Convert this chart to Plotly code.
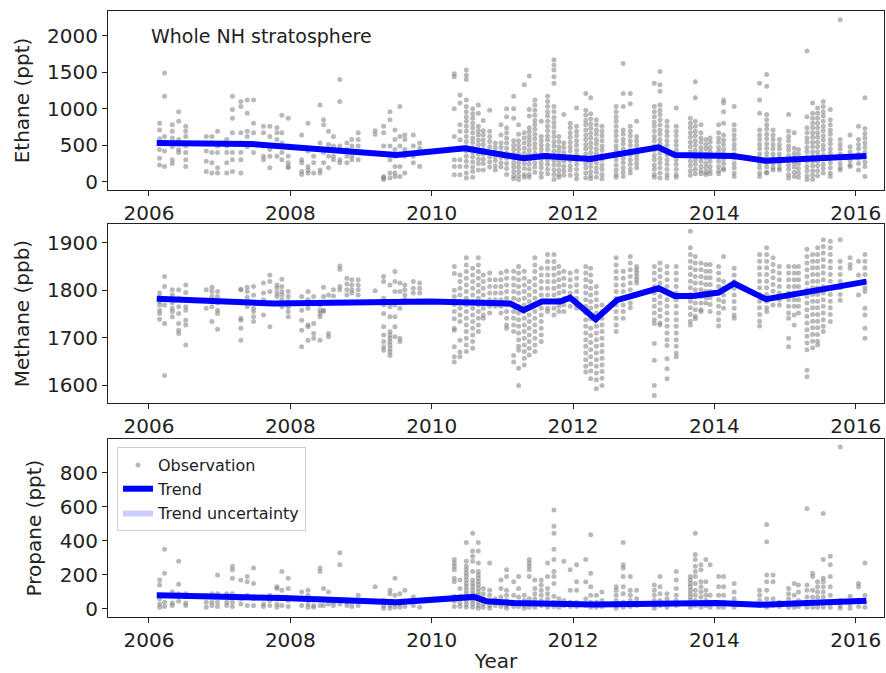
import plotly.graph_objects as go

# ---------------- data ----------------
obs_years = [
    2006.15, 2006.22, 2006.33, 2006.42, 2006.52, 2006.81, 2006.89, 2006.97, 2007.10, 2007.18,
    2007.30, 2007.39, 2007.48, 2007.62, 2007.71, 2007.81, 2007.88, 2007.97, 2008.16, 2008.25,
    2008.33, 2008.42, 2008.47, 2008.54, 2008.61, 2008.70, 2008.80, 2008.87, 2008.96, 2009.20,
    2009.32, 2009.41, 2009.48, 2009.55, 2009.62, 2009.74, 2009.83,
    2010.32, 2010.40, 2010.49, 2010.58, 2010.66, 2010.73, 2010.82, 2010.90, 2010.98, 2011.06,
    2011.16, 2011.23, 2011.31, 2011.38, 2011.46, 2011.55, 2011.64, 2011.73, 2011.80, 2011.87,
    2011.96, 2012.05, 2012.18, 2012.25, 2012.33, 2012.41, 2012.61, 2012.71, 2012.81, 2012.90,
    2013.15, 2013.23, 2013.33, 2013.46, 2013.66, 2013.73, 2013.81, 2013.88, 2013.94, 2014.06,
    2014.13, 2014.28, 2014.64, 2014.74, 2014.83, 2014.92, 2015.05, 2015.13, 2015.19, 2015.31,
    2015.39, 2015.46, 2015.54, 2015.64, 2015.78, 2015.92, 2016.04, 2016.13,
]

ethane_obs = [
    [800, 710, 590, 530, 440, 320, 230], [1490, 1170, 620, 420, 210], [780, 690, 600, 480, 300, 250],
    [960, 830, 580, 440, 400], [760, 690, 620, 490, 400, 300, 210], [620, 420, 280, 140],
    [620, 530, 400, 260, 120], [690, 490, 400, 190, 120], [580, 490, 400, 260, 120],
    [1170, 990, 870, 670, 400, 300, 140], [1100, 1030, 670, 530, 400, 300, 120], [1120, 940, 690, 620, 480],
    [1120, 800, 670, 400], [760, 670, 490, 350, 300], [760, 620, 440, 350, 190], [740, 670, 580, 490, 350],
    [910, 670, 530, 400, 300], [870, 490, 350, 260, 210, 190], [640, 300, 260, 140, 100],
    [800, 420, 210, 160, 120], [350, 260, 120], [1050, 530, 160, 120], [850, 780, 440, 400, 260],
    [690, 510, 350, 190], [620, 490, 350, 300], [1400, 1100, 490, 300, 260], [530, 440, 350, 260],
    [580, 490, 350, 300], [670, 580, 490, 400, 300], [700, 650], [760, 670, 490, 70, 50, 30],
    [960, 850, 490, 300, 120, 50], [710, 580, 440, 350, 210, 120, 70], [1030, 620, 490, 210, 70],
    [640, 580, 440, 350, 120], [640, 490, 350, 260], [530, 460, 400, 210],
    [1480, 1440, 1000, 620, 300, 210, 95],
    [1190, 1080, 780, 690, 575, 440, 300, 210, 95],
    [1530, 1460, 1400, 1120, 1030, 960, 890, 830, 760, 690, 620, 550, 480, 420, 350, 280, 210, 120, 50],
    [1000, 930, 870, 800, 740, 670, 600, 540, 470, 400, 340, 270, 200, 140, 60],
    [1050, 940, 760, 700, 640, 570, 510, 440, 380, 310, 250, 160],
    [840, 700, 640, 570, 510, 440, 380, 310, 250, 160],
    [980, 690, 620, 550, 480, 410, 340, 270, 200],
    [530, 470, 410, 350, 290, 220, 160],
    [780, 640, 530, 470, 400, 330, 260, 200],
    [1000, 890, 740, 670, 600, 530, 460, 390, 320, 250, 180, 100],
    [1170, 1000, 870, 560, 500, 440, 380, 320, 260, 200, 140, 80, 40],
    [780, 650, 560, 500, 440, 380, 320, 260, 200, 140, 80, 30],
    [1330, 670, 600, 530, 460, 390, 320, 250, 180, 100, 60],
    [1450, 990, 900, 740, 680, 620, 560, 500, 430, 370, 300, 240, 170, 100, 60],
    [1120, 1050, 980, 910, 840, 780, 720, 650, 590, 520, 460, 390, 330, 260, 200, 130],
    [830, 620, 560, 500, 440, 380, 310, 250, 190, 120, 60],
    [1170, 1100, 1030, 960, 900, 830, 760, 700, 630, 570, 500, 440, 370, 300, 240, 170, 110],
    [1670, 1600, 1530, 1440, 1350, 1030, 960, 880, 810, 750, 680, 620, 550, 490, 420, 360, 290, 230, 160, 100, 30],
    [620, 550, 480, 420, 360, 290, 230, 160, 100, 60],
    [920, 530, 470, 400, 340, 280, 210, 150, 90],
    [800, 740, 670, 610, 540, 480, 420, 350, 290, 220, 160, 90],
    [1010, 760, 690, 630, 560, 500, 430, 370, 300, 240, 170, 100, 40],
    [1210, 980, 910, 840, 780, 710, 640, 580, 510, 450, 380, 320, 250, 190, 120, 50],
    [1150, 930, 860, 790, 730, 660, 600, 530, 470, 400, 340, 270, 210, 140, 80, 40],
    [850, 780, 710, 650, 580, 520, 450, 390, 320, 260, 190, 130, 60],
    [760, 690, 630, 560, 490, 430, 360, 300, 230, 170, 100, 40],
    [1030, 960, 890, 830, 760, 690, 630, 560, 490, 430, 360, 300, 230, 160, 100, 60],
    [1620, 1210, 1030, 710, 650, 580, 520, 450, 390, 320, 260, 190, 130, 70],
    [1210, 1070, 760, 690, 630, 560, 500, 430, 370, 300, 240, 170, 120],
    [830, 620, 560, 500, 440, 370, 310, 250, 190],
    [1350, 1030, 960, 890, 820, 760, 690, 620, 560, 490, 430, 360, 300, 230, 170, 100, 60],
    [1510, 1330, 1240, 1050, 980, 920, 850, 780, 710, 650, 580, 520, 450, 390, 320, 260, 190, 120, 50],
    [830, 760, 690, 630, 560, 500, 430, 370, 300, 240, 170, 100, 50],
    [1010, 760, 690, 630, 560, 500, 430, 370, 300, 240, 170, 100, 60],
    [870, 800, 740, 670, 610, 540, 480, 410, 350, 280, 220, 150, 90],
    [1370, 1150, 830, 760, 690, 630, 560, 500, 430, 370, 300, 240, 170, 110],
    [780, 670, 600, 540, 470, 410, 340, 280, 210, 150, 110],
    [580, 510, 450, 380, 320, 250, 190, 130, 100],
    [600, 540, 470, 410, 340, 280, 210, 150, 110],
    [780, 670, 600, 540, 470, 410, 340, 280, 210, 150, 110],
    [1120, 1080, 960, 800, 640, 570, 510, 440, 380, 310, 250, 180, 160],
    [1030, 780, 710, 640, 580, 510, 450, 380, 320, 250, 190, 120, 70],
    [1350, 1120, 940, 710, 640, 580, 510, 450, 380, 320, 250, 190, 120, 70],
    [1470, 1310, 920, 850, 780, 720, 650, 590, 520, 460, 390, 330, 260, 200, 130, 120],
    [710, 640, 580, 510, 450, 380, 320, 250, 190, 160],
    [580, 510, 450, 380, 320, 250, 190, 160],
    [920, 690, 620, 560, 490, 430, 360, 300, 230, 170, 100, 50],
    [670, 460, 390, 330, 260, 200, 130, 70],
    [440, 380, 310, 250, 180, 120, 60],
    [1790, 890, 740, 670, 600, 540, 470, 410, 340, 280, 210, 150, 80, 30],
    [1080, 940, 870, 800, 740, 670, 610, 540, 480, 410, 350, 280, 220, 150, 90, 30],
    [1010, 940, 870, 800, 740, 670, 610, 540, 480, 410, 350, 280, 220, 150, 80],
    [1100, 1030, 960, 900, 830, 760, 700, 630, 570, 500, 440, 370, 310, 240, 180, 120],
    [990, 850, 780, 710, 650, 580, 520, 450, 390, 320, 260, 190, 120, 70],
    [2220, 580, 510, 450, 380, 320, 250, 190, 160],
    [640, 480, 410, 350, 290, 230, 210],
    [760, 580, 510, 450, 380, 320, 250, 160],
    [1150, 730, 660, 600, 530, 470, 400, 340, 270, 210, 70],
]

methane_obs = [
    [1794, 1785, 1776, 1769, 1758, 1751, 1739], [1829, 1808, 1769, 1730, 1621],
    [1801, 1790, 1780, 1773, 1762, 1755, 1744], [1801, 1783, 1765, 1751, 1730, 1716, 1709],
    [1811, 1795, 1780, 1765, 1758, 1737, 1727, 1685], [1801, 1762],
    [1806, 1797, 1787, 1776, 1765, 1734], [1797, 1787, 1773, 1758, 1751, 1718], [], [],
    [1802, 1801, 1776, 1741, 1737, 1720, 1695], [1806, 1797, 1785, 1765],
    [1808, 1790, 1762, 1755, 1744, 1734], [1815, 1794, 1780, 1748], [1832, 1818, 1797, 1773, 1723],
    [1811, 1804, 1794, 1787, 1773], [1823, 1808, 1797, 1790, 1780, 1765],
    [1797, 1787, 1776, 1765, 1755, 1744], [1787, 1758, 1737, 1716, 1681],
    [1797, 1780, 1762, 1727, 1723, 1695], [1787, 1730, 1709, 1699], [1769, 1758, 1751, 1744, 1695],
    [1806, 1787, 1758, 1755], [1790, 1709, 1702], [1801, 1788], [1851, 1844, 1808, 1801],
    [1825, 1813, 1801, 1790], [1822, 1811, 1801, 1794], [1822, 1811, 1801, 1790], [1799],
    [1829, 1818, 1783, 1769, 1751, 1723, 1706, 1692, 1681, 1674],
    [1811, 1765, 1744, 1713, 1706, 1699, 1692, 1685, 1677, 1670, 1663],
    [1839, 1818, 1797, 1769, 1744, 1723, 1702], [1815, 1797, 1762, 1699, 1692],
    [1811, 1801, 1790, 1780], [1818, 1804, 1794], [1815, 1804, 1794],
    [1850, 1835, 1800, 1787, 1770, 1755, 1740, 1720, 1716, 1681, 1660, 1649],
    [1832, 1818, 1804, 1790, 1776, 1762, 1748, 1734, 1695, 1670, 1660],
    [1868, 1853, 1839, 1825, 1811, 1797, 1783, 1769, 1755, 1741, 1727, 1713, 1699, 1685, 1671],
    [1846, 1832, 1818, 1804, 1790, 1776, 1762, 1748, 1734, 1720, 1706, 1692, 1678],
    [1868, 1853, 1839, 1825, 1811, 1797, 1783, 1769, 1755, 1741, 1727, 1713],
    [1832, 1818, 1804, 1790, 1776, 1762, 1748, 1741],
    [1836, 1822, 1808, 1794, 1780, 1766, 1752],
    [1822, 1808, 1794, 1780, 1766],
    [1836, 1822, 1808, 1794, 1780, 1766, 1752],
    [1840, 1825, 1811, 1797, 1783, 1769, 1755, 1741, 1727, 1720],
    [1840, 1825, 1811, 1797, 1783, 1769, 1755, 1741, 1727, 1713, 1663, 1649],
    [1850, 1836, 1822, 1808, 1794, 1780, 1766, 1752, 1738, 1724, 1710, 1696, 1682, 1674, 1636, 1600],
    [1840, 1825, 1811, 1797, 1783, 1769, 1755, 1741, 1727, 1713, 1699, 1685, 1671, 1657, 1643],
    [1818, 1804, 1790, 1776, 1762, 1748, 1734, 1720, 1706, 1692, 1678, 1664],
    [1868, 1853, 1839, 1825, 1811, 1797, 1783, 1769, 1755, 1741, 1727, 1713, 1699, 1685, 1671],
    [1846, 1832, 1818, 1804, 1790, 1776, 1762, 1748, 1734, 1720, 1706, 1692],
    [1875, 1860, 1846, 1832, 1818, 1804, 1790, 1776, 1762, 1755],
    [1875, 1860, 1846, 1832, 1818, 1804, 1790, 1776, 1762, 1748],
    [1850, 1836, 1822, 1808, 1794, 1780, 1766, 1755],
    [1840, 1825, 1811, 1797, 1783, 1769, 1755],
    [1836, 1822, 1808, 1794, 1780, 1766],
    [1840, 1825, 1811, 1797, 1783, 1769, 1762],
    [1850, 1836, 1822, 1808, 1794, 1780, 1766, 1752, 1738, 1724, 1710, 1696, 1682, 1668, 1654, 1640, 1628],
    [1846, 1832, 1818, 1804, 1790, 1776, 1762, 1740, 1720, 1705, 1690, 1675, 1660, 1645, 1630, 1614],
    [1808, 1794, 1780, 1766, 1752, 1738, 1724, 1710, 1696, 1682, 1668, 1654, 1640, 1626, 1612, 1593],
    [1769, 1755, 1741, 1727, 1713, 1699, 1685, 1671, 1657, 1643, 1629, 1615, 1600],
    [1868, 1853, 1839, 1825, 1811, 1797, 1783, 1769, 1755, 1741, 1727, 1713],
    [1840, 1825, 1811, 1797, 1783, 1769, 1755, 1741],
    [1871, 1857, 1843, 1829, 1815, 1801, 1787, 1773, 1763],
    [1850, 1843, 1836, 1829, 1822, 1815],
    [1850, 1836, 1822, 1808, 1794, 1780, 1766, 1752, 1738, 1730, 1688, 1653, 1600, 1579],
    [1857, 1843, 1829, 1815, 1801, 1787, 1773, 1759, 1745, 1731, 1727],
    [1850, 1836, 1822, 1808, 1794, 1780, 1766, 1752, 1738, 1724, 1710, 1696, 1684, 1656, 1635, 1614],
    [1850, 1836, 1822, 1808, 1794, 1780, 1766, 1752, 1738, 1724, 1710, 1696, 1682, 1668, 1660],
    [1924, 1889, 1875, 1861, 1847, 1833, 1819, 1805, 1791, 1777, 1763, 1749, 1735, 1727],
    [1871, 1857, 1843, 1829, 1815, 1801, 1787, 1773, 1759, 1745, 1740],
    [1857, 1843, 1829, 1815, 1801, 1787, 1773, 1759, 1755],
    [1854, 1840, 1826, 1812, 1798, 1784, 1773],
    [1854, 1840, 1826, 1812, 1798, 1784, 1770, 1755],
    [1850, 1836, 1822, 1808, 1794, 1780, 1766, 1752, 1738, 1725],
    [1871, 1818, 1804, 1790, 1776, 1762],
    [1846, 1832, 1818, 1804, 1790, 1776, 1762, 1748, 1741],
    [1875, 1861, 1847, 1833, 1819, 1805, 1791, 1777, 1763, 1749, 1735, 1725],
    [1889, 1875, 1861, 1847, 1833, 1819, 1805, 1791, 1777, 1763, 1755],
    [1868, 1854, 1840, 1826, 1812, 1798, 1784, 1769],
    [1850, 1836, 1822, 1808, 1794, 1780, 1769],
    [1850, 1836, 1822, 1808, 1794, 1780, 1766, 1752, 1741, 1699, 1681],
    [1850, 1836, 1822, 1808, 1794, 1780, 1766, 1748, 1727],
    [1850, 1836, 1822, 1808, 1794, 1780, 1766, 1752],
    [1886, 1871, 1857, 1843, 1829, 1815, 1801, 1787, 1773, 1759, 1745, 1731, 1717, 1703, 1689, 1675, 1632, 1618],
    [1875, 1861, 1847, 1833, 1819, 1805, 1791, 1777, 1763, 1749, 1735, 1721, 1707, 1693, 1679],
    [1889, 1875, 1861, 1847, 1833, 1819, 1805, 1791, 1777, 1763, 1749, 1735, 1721, 1707, 1693, 1685],
    [1906, 1892, 1878, 1864, 1850, 1836, 1822, 1808, 1794, 1780, 1766, 1752, 1738, 1724, 1713],
    [1903, 1889, 1875, 1861, 1847, 1833, 1819, 1805, 1791, 1777, 1763, 1749, 1734],
    [1906, 1861, 1847, 1833, 1819, 1805, 1791, 1779],
    [1868, 1854, 1846],
    [1861, 1832, 1790],
    [1875, 1861, 1847, 1833, 1819, 1805, 1797, 1762, 1748, 1720, 1699],
]

propane_obs = [
    [140, 170, 30, 10, 60], [350, 210, 40, 15], [100, 35, 20], [280, 145, 90, 45], [90, 35, 20],
    [10, 40, 80], [90, 20, 40], [200, 90, 40, 15], [90, 40, 20], [250, 230, 180, 90, 40, 15],
    [170, 60, 30], [190, 160, 80, 20], [240, 150, 60, 20], [70, 30, 15], [80, 50, 20],
    [130, 120, 70, 30, 10], [220, 110, 60, 20], [180, 120, 50, 15], [100, 60, 20], [110, 80, 30, 10],
    [20, 10], [240, 220, 60, 20], [120, 60, 20], [100, 30], [40, 20], [330, 260, 30], [40, 20],
    [40, 15], [80, 50, 20], [130], [50, 20, 5], [110, 90, 20, 5], [180, 80, 30, 10], [90, 30, 10],
    [110, 40, 15], [70, 20], [10],
    [290, 270, 250, 230, 180, 160, 75, 45, 15],
    [170, 120, 75, 35, 15],
    [390, 280, 250, 230, 210, 190, 170, 150, 130, 110, 90, 70, 50, 30, 10],
    [445, 340, 310, 280, 220, 170, 150, 130, 110, 90, 70, 50, 30, 10],
    [390, 340, 270, 220, 200, 180, 160, 140, 120, 100, 80, 60, 40, 20, 5],
    [120, 90, 60, 30, 10],
    [270, 110, 80, 50, 20, 5],
    [60, 40, 20],
    [170, 120, 70, 40, 15],
    [230, 190, 110, 80, 50, 20, 5],
    [160, 80, 40, 15],
    [190, 120, 70, 40, 15],
    [80, 50, 20, 5],
    [290, 270, 250, 230, 190, 60, 30, 10],
    [170, 120, 90, 60, 30, 10],
    [170, 140, 110, 80, 50, 20],
    [270, 190, 120, 90, 60, 30, 10],
    [580, 485, 445, 350, 290, 220, 190, 150, 75, 40, 15],
    [60, 30, 10],
    [280, 50, 20],
    [230, 110, 40, 15],
    [260, 160, 110, 40, 15],
    [290, 160, 60, 20],
    [435, 210, 130, 80, 40, 10],
    [80, 40, 10],
    [100, 50, 15],
    [130, 110, 80, 50, 20, 5],
    [390, 260, 240, 190, 130, 90, 40, 10],
    [190, 110, 80, 50, 15],
    [110, 60, 20],
    [140, 110, 80, 50, 20, 5],
    [190, 130, 90, 50, 20],
    [90, 60, 30, 10],
    [220, 170, 120, 80, 50, 20],
    [190, 170, 150, 130, 110, 90, 70, 50, 30, 10],
    [445, 320, 290, 250, 220, 190, 150, 110, 80, 50, 20],
    [260, 230, 160, 130, 100, 70, 40, 10],
    [290, 160, 110, 80, 50, 20],
    [260, 80, 40, 10],
    [190, 130, 80, 40, 10],
    [190, 130, 80, 40, 10],
    [150, 100, 60, 30, 10],
    [110, 80, 50, 20],
    [495, 395, 200, 160, 110, 60, 30, 10],
    [200, 160, 60, 20],
    [40, 15],
    [120, 90, 60, 30, 10],
    [150, 80, 40, 10],
    [140, 100, 50, 15],
    [590, 140, 110, 70, 40, 10],
    [210, 190, 110, 70, 40, 10],
    [160, 130, 100, 70, 40, 10],
    [560, 290, 180, 160, 130, 100, 70, 40, 10],
    [310, 260, 190, 130, 80, 40, 10],
    [950, 50, 20, 5],
    [75, 30, 5],
    [150, 130, 50, 15],
    [270, 80, 40, 10],
]

eth_trend_years = [2006.11, 2007.43, 2009.50, 2010.47, 2011.30, 2011.60, 2012.24, 2013.21, 2013.44, 2014.27, 2014.72, 2016.15]
eth_trend = [531, 518, 367, 459, 321, 353, 312, 472, 367, 353, 288, 353]
eth_unc = [25, 20, 20, 25, 20, 20, 20, 25, 20, 20, 20, 25]

meth_trend_years = [2006.11, 2007.76, 2009.98, 2011.11, 2011.30, 2011.56, 2011.82, 2011.96, 2012.32, 2012.62,
                    2013.21, 2013.44, 2013.70, 2014.06, 2014.28, 2014.73, 2016.15]
meth_trend = [1782, 1772, 1776, 1772, 1758, 1776, 1776, 1784, 1739, 1779, 1804, 1788, 1788, 1795, 1814, 1781, 1818]
meth_unc = [3, 3, 3, 3, 3, 3, 3, 3, 3, 3, 3, 3, 3, 3, 3, 3, 3]

prop_trend_years = [2006.11, 2007.90, 2009.50, 2010.45, 2010.60, 2010.78, 2011.16, 2012.30, 2013.09, 2014.03, 2014.65, 2016.15]
prop_trend = [80, 64, 39, 74, 71, 45, 35, 27, 29, 35, 25, 49]
prop_unc = [8, 8, 8, 8, 8, 8, 8, 8, 8, 8, 8, 8]

year_ticks = [2006, 2008, 2010, 2012, 2014, 2016]
ethane_ticks = [0, 500, 1000, 1500, 2000]
methane_ticks = [1600, 1700, 1800, 1900]
propane_ticks = [0, 200, 400, 600, 800]

# ---------------- figure ----------------
fig = go.Figure()
FONT = "DejaVu Sans"
panels = [
    (ethane_obs, eth_trend_years, eth_trend, eth_unc, "x", "y", False),
    (methane_obs, meth_trend_years, meth_trend, meth_unc, "x2", "y2", False),
    (propane_obs, prop_trend_years, prop_trend, prop_unc, "x3", "y3", True),
]
for obs, ty, tv, tu, xa, ya, show in panels:
    xs, ys = [], []
    for yr, vals in zip(obs_years, obs):
        for v in vals:
            xs.append(yr)
            ys.append(v)
    fig.add_trace(go.Scatter(
        x=xs, y=ys, mode="markers", xaxis=xa, yaxis=ya, name="Observation",
        marker=dict(color="rgba(128,128,128,0.55)", size=5, line=dict(width=0)),
        showlegend=show, legendrank=1))
    fig.add_trace(go.Scatter(
        x=ty, y=[a - b for a, b in zip(tv, tu)], mode="lines", xaxis=xa, yaxis=ya,
        line=dict(width=0, color="rgba(0,0,255,0)"), showlegend=False, hoverinfo="skip"))
    fig.add_trace(go.Scatter(
        x=ty, y=[a + b for a, b in zip(tv, tu)], mode="lines", xaxis=xa, yaxis=ya,
        fill="tonexty", fillcolor="rgba(0,0,255,0.2)", line=dict(width=0, color="rgba(0,0,255,0)"),
        name="Trend uncertainty", showlegend=show, legendrank=3))
    fig.add_trace(go.Scatter(
        x=ty, y=tv, mode="lines", xaxis=xa, yaxis=ya, name="Trend",
        line=dict(color="#0000ff", width=6), showlegend=show, legendrank=2))

axis_common = dict(showline=True, mirror=True, linecolor="#222222", linewidth=1,
                   ticks="outside", ticklen=5, tickwidth=1, tickcolor="#222222",
                   tickfont=dict(family=FONT, size=20, color="#222222"),
                   showgrid=False, zeroline=False)
xcommon = dict(axis_common, range=[2005.42, 2016.40], tickvals=year_ticks)

fig.update_layout(
    width=886, height=673,
    margin=dict(l=108, r=2, t=11, b=56),
    paper_bgcolor="white", plot_bgcolor="white",
    font=dict(family=FONT, size=16, color="#222222"),
    xaxis=dict(xcommon, anchor="y"),
    xaxis2=dict(xcommon, anchor="y2"),
    xaxis3=dict(xcommon, anchor="y3",
                title=dict(text="Year", font=dict(family=FONT, size=20, color="#222222"), standoff=6)),
    yaxis=dict(axis_common, domain=[0.7046, 1.0], range=[-114, 2340], tickvals=ethane_ticks, anchor="x",
               title=dict(text="Ethane (ppt)", font=dict(family=FONT, size=20, color="#222222"), standoff=12)),
    yaxis2=dict(axis_common, domain=[0.3531, 0.6485], range=[1563, 1939], tickvals=methane_ticks, anchor="x2",
                title=dict(text="Methane (ppb)", font=dict(family=FONT, size=20, color="#222222"), standoff=12)),
    yaxis3=dict(axis_common, domain=[0.0, 0.2937], range=[-47, 997], tickvals=propane_ticks, anchor="x3",
                title=dict(text="Propane (ppt)", font=dict(family=FONT, size=20, color="#222222"), standoff=12)),
    legend=dict(x=0.0116, y=0.2805, xanchor="left", yanchor="top",
                bgcolor="rgba(255,255,255,0.8)", bordercolor="#d0d0d0", borderwidth=1,
                font=dict(family=FONT, size=16, color="#222222"), traceorder="normal",
                tracegroupgap=0),
    annotations=[dict(text="Whole NH stratosphere", xref="x domain", yref="y domain",
                      x=0.0528, y=0.86, xanchor="left", yanchor="middle", showarrow=False,
                      font=dict(family=FONT, size=19, color="#222222"))],
    showlegend=True,
)

fig.write_html("out.html")
